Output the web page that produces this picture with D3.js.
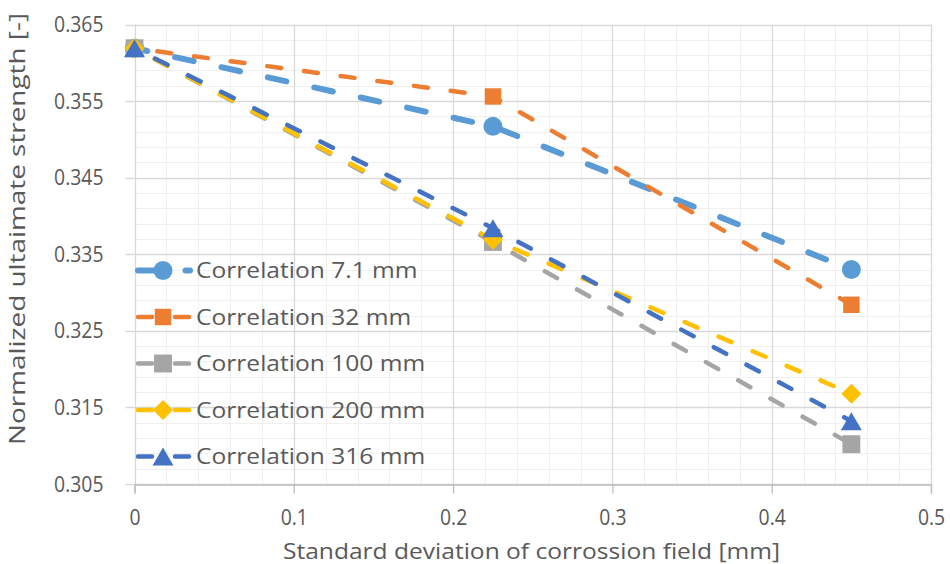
<!DOCTYPE html>
<html>
<head>
<meta charset="utf-8">
<script src="https://cdn.jsdelivr.net/npm/d3@7"></script>
<style>
  html, body { margin: 0; padding: 0; background: #fff; }
  svg { display: block; }
  text { font-family: "Open Sans", "Noto Sans", sans-serif; fill: #595959; }
</style>
</head>
<body>
<svg id="chart" width="950" height="564"></svg>
<script>
// ---- data ----
const xValues = [0, 0.225, 0.45];
const seriesNames = ["Correlation 7.1 mm", "Correlation 32 mm", "Correlation 100 mm", "Correlation 200 mm", "Correlation 316 mm"];
const corr7_1 = [0.3619, 0.3517, 0.3330];
const corr32  = [0.3619, 0.3556, 0.3284];
const corr100 = [0.3619, 0.3366, 0.3102];
const corr200 = [0.3619, 0.3369, 0.3168];
const corr316 = [0.3619, 0.3384, 0.3132];
const xTicks = [0, 0.1, 0.2, 0.3, 0.4, 0.5];
const yTicks = [0.305, 0.315, 0.325, 0.335, 0.345, 0.355, 0.365];
const xTitle = "Standard deviation of corrossion field [mm]";
const yTitle = "Normalized ultaimate strength [-]";

// ---- styles ----
const colors = ["#5B9BD5", "#ED7D31", "#A5A5A5", "#FFC000", "#4472C4"];
const symbolTypes = ["circle", "square", "square", "diamond", "triangle"];
const symbolSizes = [283, 270, 320, 200, 190];
const widths = [6, 4.5, 4.5, 4.5, 4.5];
const dashes = ["19 28.5", "14 23", "14 23", "14 23", "14 23"];
const dashOffsets = [6, 14, 14, 14, 14];

const allValues = [corr7_1, corr32, corr100, corr200, corr316];
const series = seriesNames.map((name, i) => ({
  name, color: colors[i], type: symbolTypes[i], size: symbolSizes[i],
  width: widths[i], dash: dashes[i], offset: dashOffsets[i],
  points: xValues.map((xv, j) => ({x: xv, y: allValues[i][j]}))
}));

function symbolPath(type, size) {
  if (type === "circle") return d3.symbol().type(d3.symbolCircle).size(size)();
  if (type === "square" || type === "diamond") return d3.symbol().type(d3.symbolSquare).size(size)();
  const side = Math.sqrt(4 * size / Math.sqrt(3));
  const h = side * Math.sqrt(3) / 2;
  return `M0,${-h/2}L${side/2},${h/2}L${-side/2},${h/2}Z`;
}
function symbolRot(type) { return type === "diamond" ? " rotate(45)" : ""; }

const svg = d3.select("#chart");
const pLeft = 134.5, pRight = 931, pTop = 24.5, pBottom = 484;
const x = d3.scaleLinear().domain([0, 0.5]).range([pLeft, pRight]);
const y = d3.scaleLinear().domain([0.305, 0.365]).range([pBottom, pTop]);

// minor gridlines
const xMinor = d3.range(0, 0.5001, 0.02);
const yMinor = d3.range(0.305, 0.36501, 0.002);
const g = svg.append("g");
g.selectAll(".vminor").data(xMinor).join("line")
  .attr("x1", d => Math.round(x(d)) + 0.5).attr("x2", d => Math.round(x(d)) + 0.5)
  .attr("y1", pTop).attr("y2", pBottom)
  .attr("stroke", "#f0f0f0").attr("stroke-width", 1);
g.selectAll(".hminor").data(yMinor).join("line")
  .attr("y1", d => Math.round(y(d)) + 0.5).attr("y2", d => Math.round(y(d)) + 0.5)
  .attr("x1", pLeft).attr("x2", pRight)
  .attr("stroke", "#f0f0f0").attr("stroke-width", 1);
// major gridlines
g.selectAll(".vmajor").data(xTicks).join("line")
  .attr("x1", d => Math.round(x(d)) + 0.5).attr("x2", d => Math.round(x(d)) + 0.5)
  .attr("y1", pTop).attr("y2", pBottom)
  .attr("stroke", "#d9d9d9").attr("stroke-width", 1.3);
g.selectAll(".hmajor").data(yTicks).join("line")
  .attr("y1", d => Math.round(y(d)) + 0.5).attr("y2", d => Math.round(y(d)) + 0.5)
  .attr("x1", pLeft - 9).attr("x2", pRight)
  .attr("stroke", "#d9d9d9").attr("stroke-width", 1.3);

// axes
const tickFont = 22, tickSquash = 0.88;
const xAxis = d3.axisBottom(x).tickValues(xTicks).tickSize(9).tickPadding(16)
  .tickFormat(d => String(+d.toFixed(1)));
const xg = svg.append("g").attr("transform", `translate(0,${Math.round(pBottom) + 0.5})`).call(xAxis);
xg.select(".domain").attr("stroke", "#bfbfbf").attr("stroke-width", 1.3);
xg.selectAll(".tick line").attr("stroke", "#bfbfbf").attr("stroke-width", 1.3);
xg.selectAll(".tick text").attr("font-size", tickFont).attr("fill", "#595959")
  .attr("font-family", "Open Sans");

const yAxis = d3.axisLeft(y).tickValues(yTicks).tickSize(0).tickPadding(31)
  .tickFormat(d3.format(".3f"));
const yg = svg.append("g").attr("transform", `translate(${pLeft},0)`).call(yAxis);
yg.select(".domain").remove();
yg.selectAll(".tick text").attr("font-size", tickFont).attr("fill", "#595959")
  .attr("font-family", "Open Sans");
[xg, yg].forEach(ax => ax.selectAll(".tick text").each(function() {
  const n = this.getComputedTextLength();
  d3.select(this).attr("textLength", n * tickSquash).attr("lengthAdjust", "spacingAndGlyphs");
}));

// titles
svg.append("text").attr("x", 531.5).attr("y", 559)
  .attr("text-anchor", "middle").attr("font-size", 22)
  .attr("textLength", 497).attr("lengthAdjust", "spacingAndGlyphs").text(xTitle);
svg.append("text").attr("transform", "translate(25,229) rotate(-90)")
  .attr("text-anchor", "middle").attr("font-size", 22)
  .attr("textLength", 432).attr("lengthAdjust", "spacingAndGlyphs").text(yTitle);

// series
const line = d3.line().x(d => x(d.x)).y(d => y(d.y));
series.forEach(s => {
  const sg = svg.append("g");
  sg.append("path").datum(s.points).attr("d", line)
    .attr("fill", "none").attr("stroke", s.color).attr("stroke-width", s.width)
    .attr("stroke-linecap", "round").attr("stroke-linejoin", "round")
    .attr("stroke-dasharray", s.dash).attr("stroke-dashoffset", s.offset);
  sg.selectAll("path.m").data(s.points).join("path").attr("class", "m")
    .attr("transform", d => `translate(${x(d.x)},${y(d.y)})${symbolRot(s.type)}`)
    .attr("d", symbolPath(s.type, s.size))
    .attr("fill", s.color);
});

// legend
const legY0 = 270.5, legStep = 46.5;
series.forEach((s, i) => {
  const ly = legY0 + i * legStep;
  const lg = svg.append("g");
  lg.append("line").attr("x1", 138).attr("x2", 190).attr("y1", ly).attr("y2", ly)
    .attr("stroke", s.color).attr("stroke-width", s.width)
    .attr("stroke-linecap", "round").attr("stroke-dasharray", s.dash);
  lg.append("path").attr("transform", `translate(163,${ly})${symbolRot(s.type)}`)
    .attr("d", symbolPath(s.type, s.size)).attr("fill", s.color);
  const t = lg.append("text").attr("x", 196).attr("y", ly).attr("dy", "0.36em")
    .attr("font-size", 21).text(s.name);
  const natural = t.node().getComputedTextLength();
  t.attr("textLength", natural * 1.17).attr("lengthAdjust", "spacingAndGlyphs");
});
</script>
</body>
</html>
